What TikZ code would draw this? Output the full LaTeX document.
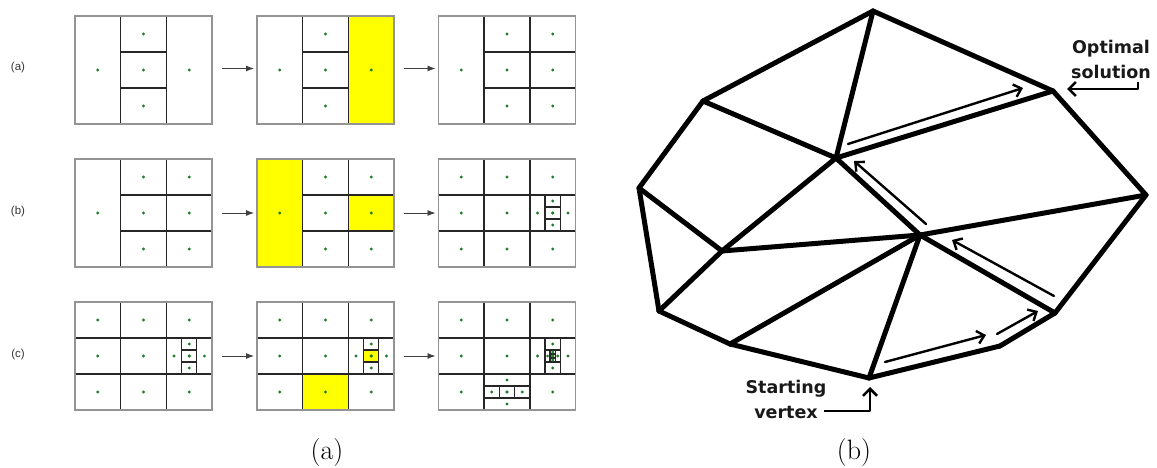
\documentclass[tikz,border=0pt]{standalone}
\usepackage{fontspec}
\usetikzlibrary{arrows.meta}
\newfontfamily\labelfont{Liberation Sans}
\newfontfamily\vertexfont{DejaVu Sans}
\definecolor{hiliteyellow}{RGB}{255,255,0}
\definecolor{pointgreen}{RGB}{30,125,40}

\tikzset{
    panebox/.style={draw=black!42, line width=1.4pt, minimum width=137pt, minimum height=108pt, inner sep=0pt, outer sep=0pt},
    gridln/.style={draw=black!85, line width=1.4pt},
    gridpt/.style={fill=pointgreen},
    hilite/.style={fill=hiliteyellow},
    steparrow/.style={draw=black!75, line width=0.9pt, -{Latex[length=8pt,width=6pt]}, shorten <=10pt, shorten >=3pt},
    edge/.style={line width=5pt, line cap=round, line join=round},
    walk/.style={line width=2.4pt, line cap=round, -{Straight Barb[length=7pt,width=13pt,line width=2.4pt]}},
    callout/.style={line width=2.6pt, line join=round, -{Straight Barb[length=7pt,width=14pt,line width=2.6pt]}},
    vertexlabel/.style={font=\vertexfont\bfseries\fontsize{17.5}{25}\selectfont, align=center, text=black!90, inner sep=0pt},
    rowlabel/.style={font=\labelfont\fontsize{11.5}{11.5}\selectfont, text=black!80, inner sep=0pt},
    caption/.style={font=\fontsize{28}{28}\selectfont, inner sep=0pt},
}

% a box of the grid, in cell units
\newcommand{\paneat}[4]{
    \begin{scope}[shift={(#2,#3)}, x=45.67pt, y=-36pt]
        #4
        \node[panebox, anchor=north west] (#1) at (0,0) {};
    \end{scope}
}
\newcommand{\hilitebox}[4]{\fill[hilite] (#1,#2) rectangle (#3,#4);}
\newcommand{\crosspts}[3]{
    \foreach \dx/\dy in {-1/0, 0/-1, 0/0, 0/1, 1/0}
        \fill[gridpt] ({#1+\dx*#3/3},{#2+\dy*#3/3}) circle (1.6pt);
}
% split a cell in three columns, the middle one in three rows
\newcommand{\crossv}[3]{
    \foreach \s in {-1,1} {
        \draw[gridln] ({#1+\s*#3/6},{#2-#3/2}) -- ({#1+\s*#3/6},{#2+#3/2});
        \draw[gridln] ({#1-#3/6},{#2+\s*#3/6}) -- ({#1+#3/6},{#2+\s*#3/6});
    }
    \crosspts{#1}{#2}{#3}
}
% split a cell in three rows, the middle one in three columns
\newcommand{\crossh}[3]{
    \foreach \s in {-1,1} {
        \draw[gridln] ({#1-#3/2},{#2+\s*#3/6}) -- ({#1+#3/2},{#2+\s*#3/6});
        \draw[gridln] ({#1+\s*#3/6},{#2-#3/6}) -- ({#1+\s*#3/6},{#2+#3/6});
    }
    \crosspts{#1}{#2}{#3}
}
\newcommand{\rightcol}{
    \foreach \r in {1,2} \draw[gridln] (2,\r) -- (3,\r);
    \foreach \r in {0.5,2.5} \fill[gridpt] (2.5,\r) circle (1.6pt);
}
\newcommand{\fullgrid}{
    \crossv{1.5}{1.5}{3}
    \rightcol
    \foreach \r in {1,2} \draw[gridln] (0,\r) -- (1,\r);
    \foreach \r in {0.5,2.5} \fill[gridpt] (0.5,\r) circle (1.6pt);
    \crossv{2.5}{1.5}{1}
}

\begin{document}
\begin{tikzpicture}[x=1pt, y=-1pt]
    \useasboundingbox (0,0) rectangle (1157,468);

    % row (a)
    \paneat{paneAa}{75}{16}{\crossv{1.5}{1.5}{3}}
    \paneat{paneAb}{257}{16}{\hilitebox{2}{0}{3}{3}\crossv{1.5}{1.5}{3}}
    \paneat{paneAc}{438.5}{16}{\crossv{1.5}{1.5}{3}\rightcol}
    % row (b)
    \paneat{paneBa}{75}{159}{\crossv{1.5}{1.5}{3}\rightcol}
    \paneat{paneBb}{257}{159}{\hilitebox{0}{0}{1}{3}\hilitebox{2}{1}{3}{2}\crossv{1.5}{1.5}{3}\rightcol}
    \paneat{paneBc}{438.5}{159}{\fullgrid}
    % row (c)
    \paneat{paneCa}{75}{302}{\fullgrid}
    \paneat{paneCb}{257}{302}{\hilitebox{1}{2}{2}{3}\hilitebox{2.333}{1.333}{2.667}{1.667}\fullgrid}
    \paneat{paneCc}{438.5}{302}{\fullgrid\crossv{2.5}{1.5}{0.3333}\crossh{1.5}{2.5}{1}}

    \foreach \from/\to in {paneAa/paneAb, paneAb/paneAc}
        \draw[steparrow] ([yshift=1.5pt]\from.east) -- ([yshift=1.5pt]\to.west);
    \foreach \from/\to in {paneBa/paneBb, paneBb/paneBc, paneCa/paneCb, paneCb/paneCc}
        \draw[steparrow] (\from) -- (\to);

    \node[rowlabel] (rowA) at (18,68) {(a)};
    \node[rowlabel] (rowB) at (18,212) {(b)};
    \node[rowlabel] (rowC) at (18,355) {(c)};

    \node[caption] (capA) at (327,453) {(a)};
    \node[caption] (capB) at (854,453) {(b)};

    % the polytope
    \coordinate (top) at (873,11);
    \coordinate (upl) at (703,101);
    \coordinate (lft) at (639,188);
    \coordinate (mid) at (836,158);
    \coordinate (opt) at (1053,91);
    \coordinate (rgt) at (1146,195);
    \coordinate (cen) at (920,235);
    \coordinate (inl) at (722,251);
    \coordinate (lwl) at (659,311);
    \coordinate (bot) at (730,344);
    \coordinate (sta) at (869,378);
    \coordinate (bra) at (1000,346);
    \coordinate (brb) at (1055,313);
    \foreach \a/\b in {top/upl, top/opt, top/mid, upl/lft, upl/mid, mid/opt, mid/inl, mid/cen,
        opt/rgt, rgt/cen, rgt/brb, lft/inl, lft/lwl, inl/lwl, inl/cen, lwl/bot, bot/cen,
        bot/sta, sta/cen, sta/bra, bra/brb, brb/cen}
        \draw[edge] (\a) -- (\b);

    % the walk
    \coordinate (wa) at (885,362);
    \coordinate (wb) at (986,335);
    \coordinate (wc) at (997,334);
    \coordinate (wd) at (1038,311);
    \coordinate (we) at (1054,296);
    \coordinate (wf) at (952,240);
    \coordinate (wg) at (926,224);
    \coordinate (wh) at (854,161);
    \coordinate (wi) at (848,144);
    \coordinate (wj) at (1023,88);
    \foreach \a/\b in {wa/wb, wc/wd, we/wf, wg/wh, wi/wj}
        \draw[walk] (\a) -- (\b);

    \node[vertexlabel] (optlabel) at (1111,59) {Optimal\\solution};
    \node[vertexlabel] (stalabel) at (786,399) {Starting\\vertex};
    \coordinate (opta) at (1138,82);
    \coordinate (optb) at (1138,89);
    \coordinate (optc) at (1067,89);
    \coordinate (staa) at (824,411);
    \coordinate (stab) at (870,411);
    \coordinate (stac) at (870,387);
    \draw[callout] (opta) -- (optb) -- (optc);
    \draw[callout] (staa) -- (stab) -- (stac);
\end{tikzpicture}
\end{document}
